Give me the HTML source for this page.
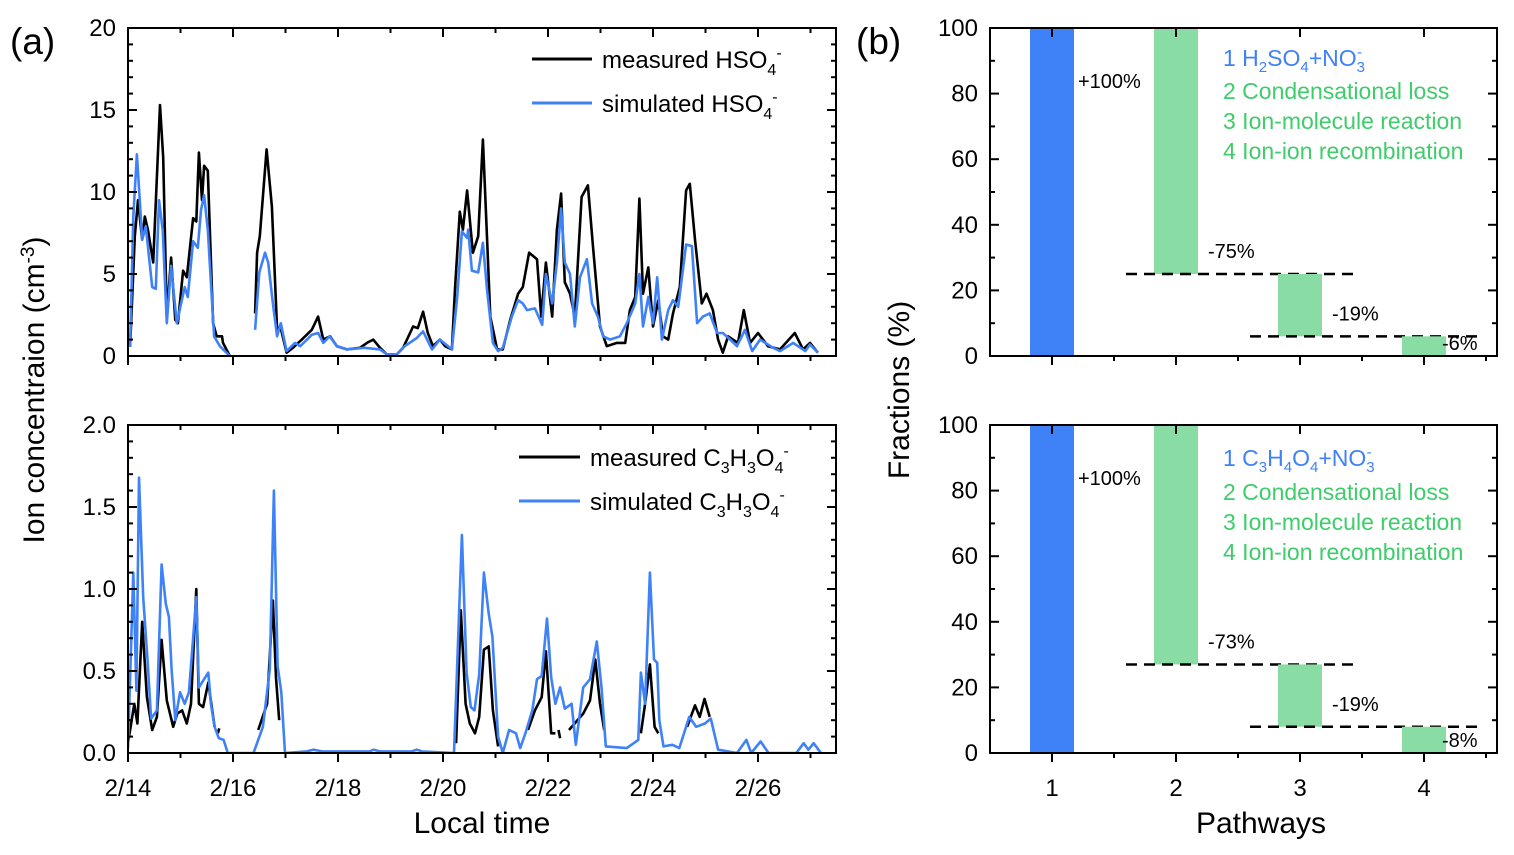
<!DOCTYPE html>
<html><head><meta charset="utf-8"><style>
html,body{margin:0;padding:0;background:#fff;}
svg{display:block;font-family:"Liberation Sans",Arial,sans-serif;}
</style></head><body>
<svg id="chart" width="1514" height="855" viewBox="0 0 1514 855" xmlns="http://www.w3.org/2000/svg"></svg>
<script>
// ---- Data (days since 2/14, value) ----
const hso4Measured = [[0.04,0.55],[0.13,7.3],[0.19,9.5],[0.27,7.1],[0.32,8.5],[0.38,7.7],[0.48,5.7],[0.61,15.3],[0.67,12.1],[0.74,2.4],[0.82,6.0],[0.9,2.2],[0.95,2.0],[1.05,5.2],[1.12,4.8],[1.24,8.4],[1.3,8.2],[1.35,12.4],[1.41,9.5],[1.45,11.6],[1.52,11.3],[1.62,2.0],[1.69,1.2],[1.79,1.2],[1.81,0.8],[1.94,0],null,
[2.42,2.6],[2.46,6.3],[2.51,7.3],[2.64,12.6],[2.74,9.1],[2.84,1.6],[2.9,1.8],[3.02,0.2],[3.14,0.5],[3.31,1.0],[3.5,1.6],[3.62,2.4],[3.72,1.0],[3.85,1.2],[3.98,0.6],[4.17,0.4],[4.42,0.5],[4.55,0.8],[4.67,1.0],[4.8,0.5],[4.93,0.1],[5.12,0.1],[5.24,0.5],[5.43,1.8],[5.52,1.7],[5.62,2.7],[5.71,1.4],[5.81,0.6],[5.94,1.0],[6.04,0.6],[6.17,0.4],[6.23,4.2],[6.32,8.8],[6.38,7.7],[6.46,10.1],[6.57,6.3],[6.67,7.3],[6.76,13.2],[6.84,7.1],[6.9,2.4],[7.03,0.4],[7.14,0.4],[7.28,2.2],[7.43,3.8],[7.52,4.2],[7.64,6.3],[7.79,5.9],[7.87,2.4],[7.96,5.7],[8.08,2.4],[8.17,7.7],[8.25,9.9],[8.32,4.5],[8.42,3.8],[8.51,2.4],[8.64,9.7],[8.76,10.4],[8.86,6.6],[8.99,1.8],[9.12,0.6],[9.31,0.8],[9.47,0.8],[9.56,2.8],[9.66,3.6],[9.74,9.6],[9.81,3.8],[9.91,5.4],[10.0,1.8],[10.1,3.4],[10.19,1.2],[10.29,1.0],[10.38,2.6],[10.51,4.2],[10.63,10.1],[10.7,10.5],[10.8,7.1],[10.93,3.2],[11.02,3.8],[11.14,2.8],[11.24,1.0],[11.33,0.2],[11.43,1.2],[11.62,0.8],[11.73,2.8],[11.85,0.8],[12.0,1.4],[12.19,0.6],[12.42,0.4],[12.7,1.4],[12.86,0.4],[12.99,0.8],[13.14,0.2]];
const hso4Simulated = [[0.04,0.55],[0.1,8.5],[0.17,12.3],[0.27,7.1],[0.34,7.9],[0.46,4.2],[0.53,4.1],[0.59,9.5],[0.66,7.7],[0.74,2.0],[0.82,5.5],[0.93,2.0],[1.08,4.2],[1.14,3.6],[1.24,7.0],[1.33,6.6],[1.39,8.9],[1.45,9.8],[1.52,7.7],[1.64,1.2],[1.75,0.6],[1.94,0],null,
[2.42,1.6],[2.5,5.1],[2.61,6.3],[2.67,5.7],[2.76,3.2],[2.84,1.2],[2.91,2.0],[3.02,0.3],[3.18,0.8],[3.28,0.6],[3.41,1.0],[3.5,1.3],[3.62,1.4],[3.72,0.8],[3.84,1.2],[3.98,0.6],[4.17,0.4],[4.5,0.5],[4.8,0.4],[4.93,0.1],[5.12,0.1],[5.27,0.6],[5.5,1.1],[5.62,1.5],[5.79,0.4],[5.94,1.0],[6.17,0.4],[6.27,3.6],[6.36,7.6],[6.46,7.2],[6.48,7.7],[6.55,5.2],[6.67,5.1],[6.76,6.9],[6.84,4.0],[6.95,0.8],[7.05,0.3],[7.14,0.5],[7.31,2.4],[7.43,3.4],[7.52,3.2],[7.6,2.8],[7.75,2.9],[7.89,1.9],[7.96,5.0],[8.08,3.2],[8.17,5.7],[8.25,9.0],[8.32,5.7],[8.42,5.0],[8.51,1.8],[8.61,4.8],[8.74,5.9],[8.84,3.2],[8.95,2.4],[9.05,1.2],[9.18,1.0],[9.37,1.2],[9.5,2.0],[9.66,3.2],[9.74,5.0],[9.81,1.8],[9.91,3.6],[10.0,2.0],[10.08,4.8],[10.17,1.0],[10.29,2.8],[10.38,3.4],[10.48,3.0],[10.63,6.8],[10.74,6.7],[10.84,2.0],[10.95,2.4],[11.08,2.6],[11.22,1.4],[11.33,1.4],[11.47,1.0],[11.6,0.6],[11.75,1.6],[11.89,0.3],[12.04,1.0],[12.29,0.5],[12.42,0.3],[12.67,0.8],[12.9,0.3],[12.99,0.7],[13.14,0.2]];
const c3Measured = [[0,0.06],[0.12,0.3],[0.18,0.18],[0.27,0.8],[0.36,0.34],[0.46,0.14],[0.55,0.22],[0.64,0.69],[0.74,0.32],[0.86,0.16],[0.94,0.24],[1.03,0.26],[1.12,0.18],[1.2,0.3],[1.3,1.0],[1.35,0.3],[1.43,0.28],[1.53,0.43],[1.65,0.16],null,[1.71,0.12],[1.74,0.15],null,
[2.48,0.14],[2.65,0.3],[2.76,0.93],[2.82,0.46],[2.88,0.2],null,
[6.25,0.06],[6.34,0.87],[6.43,0.3],[6.51,0.18],[6.61,0.12],[6.69,0.22],[6.78,0.63],[6.87,0.65],[6.95,0.26],[7.05,0.04],null,
[7.62,0.14],[7.75,0.26],[7.88,0.34],[7.96,0.62],[8.06,0.12],[8.14,0.12],null,[8.2,0.14],[8.23,0.09],null,
[8.4,0.14],[8.67,0.24],[8.8,0.32],[8.9,0.57],[8.99,0.3],[9.07,0.14],null,
[9.77,0.12],[9.85,0.3],[9.94,0.54],[10.03,0.16],[10.1,0.12],null,
[10.65,0.16],[10.8,0.29],[10.89,0.22],[10.98,0.33],[11.08,0.22]];
const c3Simulated = [[0,0.03],[0.1,1.1],[0.16,0.38],[0.21,1.68],[0.29,0.95],[0.37,0.58],[0.44,0.21],[0.55,0.26],[0.64,1.15],[0.72,0.91],[0.78,0.83],[0.83,0.51],[0.9,0.2],[0.99,0.37],[1.08,0.3],[1.16,0.37],[1.3,0.95],[1.35,0.4],[1.45,0.45],[1.53,0.49],[1.58,0.3],[1.65,0.16],[1.73,0.09],[1.82,0.08],[1.9,0],[2.39,0],[2.57,0.16],[2.7,0.51],[2.78,1.6],[2.85,0.53],[2.92,0.37],[2.99,0],[3.4,0.01],[3.53,0.02],[3.7,0.01],[4.6,0.01],[4.68,0.02],[4.8,0.01],[5.4,0.01],[5.5,0.02],[5.6,0.01],[6.21,0],[6.36,1.33],[6.45,0.49],[6.53,0.28],[6.6,0.26],[6.69,0.48],[6.78,1.1],[6.87,0.85],[6.94,0.71],[7.05,0.1],[7.14,0],[7.26,0.14],[7.39,0.12],[7.47,0.03],[7.57,0.12],[7.7,0.26],[7.79,0.45],[7.88,0.47],[7.98,0.82],[8.06,0.46],[8.14,0.3],[8.23,0.4],[8.32,0.27],[8.45,0.3],[8.53,0.05],[8.67,0.4],[8.8,0.45],[8.93,0.68],[9.02,0.4],[9.1,0.04],[9.5,0.03],[9.72,0.08],[9.77,0.49],[9.85,0.3],[9.94,1.1],[10.02,0.57],[10.08,0.55],[10.12,0.2],[10.2,0.04],[10.37,0.05],[10.5,0.03],[10.69,0.22],[10.82,0.16],[10.99,0.18],[11.1,0.21],[11.24,0.02],[11.6,0],[11.78,0.08],[11.87,0],[12.05,0.07],[12.2,0],[12.73,0],[12.87,0.06],[12.96,0.02],[13.06,0.06],[13.2,0]];
const dateLabels = ["2/14","2/16","2/18","2/20","2/22","2/24","2/26"];
const pathwayCats = [1,2,3,4];
const topFractions = [100,-75,-19,-6];
const bottomFractions = [100,-73,-19,-8];
const topFracLabels = ["+100%","-75%","-19%","-6%"];
const bottomFracLabels = ["+100%","-73%","-19%","-8%"];

const NS="http://www.w3.org/2000/svg";
const svg=document.getElementById('chart');
function mk(tag,attrs,parent){const e=document.createElementNS(NS,tag);for(const k in attrs)e.setAttribute(k,attrs[k]);(parent||svg).appendChild(e);return e;}

const L={x0:128,x1:836,pxPerDay:52.5};
const xDay=d=>L.x0+d*L.pxPerDay;
function timePanel(name,y0,y1,ymax,major,minor,fmt,s1,s2){
  const g=mk('g',{});
  
  
  const yV=v=>y0-(v/ymax)*(y0-y1);
  const clip=mk('clipPath',{id:'clip-'+name},g);mk('rect',{x:L.x0,y:y1,width:L.x1-L.x0,height:y0-y1},clip);
  [[s1,'#000','measured-line'],[s2,'#3f82f8','simulated-line']].forEach(([ser,col,nm])=>{
    let d='',pen=false;
    ser.forEach(p=>{if(!p){pen=false;return;}d+=(pen?'L':'M')+xDay(p[0]).toFixed(1)+' '+yV(p[1]).toFixed(1);pen=true;});
    const path=mk('path',{d:d,fill:'none',stroke:col,'stroke-width':2.6,'stroke-linejoin':'round','clip-path':'url(#clip-'+name+')'},g);
    
    
  });
  mk('rect',{x:L.x0,y:y1,width:L.x1-L.x0,height:y0-y1,fill:'none',stroke:'#000','stroke-width':2},g);
  const n=Math.round(ymax/minor);
  for(let i=0;i<=n;i++){const v=i*minor;const y=yV(v);const isMaj=Math.abs(v/major-Math.round(v/major))<1e-6;const len=isMaj?9:5;
    mk('line',{x1:L.x0,x2:L.x0+len,y1:y,y2:y,stroke:'#000','stroke-width':2},g);
    mk('line',{x1:L.x1,x2:L.x1-len,y1:y,y2:y,stroke:'#000','stroke-width':2},g);
    if(isMaj){const t=mk('text',{x:L.x0-12,y:y+8,'text-anchor':'end','font-size':24},g);t.textContent=fmt(v);
      
      }
  }
  for(let d=0;d<=13;d++){const x=xDay(d);const len=d%2===0?9:5;mk('line',{x1:x,x2:x,y1:y0,y2:y0+len,stroke:'#000','stroke-width':2},g);
    mk('line',{x1:x,x2:x,y1:y1,y2:y1+len,stroke:'#000','stroke-width':2},g);}
  return g;
}
timePanel('hso4-panel',356,28,20,5,1,v=>String(v),hso4Measured,hso4Simulated);
timePanel('c3-panel',753,425,2,0.5,0.1,v=>v.toFixed(1),c3Measured,c3Simulated);
dateLabels.forEach((lab,i)=>{const t=mk('text',{x:xDay(i*2),y:796,'text-anchor':'middle','font-size':24});t.textContent=lab;
  
  });

function legendEntry(x1,x2,y,col,main,name){
  const g=mk('g',{});
  
  
  mk('line',{x1:x1,x2:x2,y1:y,y2:y,stroke:col,'stroke-width':3},g);
  const t=mk('text',{x:x2+10,y:y+9,'font-size':24},g);
  t.innerHTML=main;
}
legendEntry(532,592,59,'#000','measured HSO<tspan font-size="16" dy="7">4</tspan><tspan font-size="16" dy="-17">-</tspan>','legend-measured-hso4');
legendEntry(532,592,103,'#3f82f8','simulated HSO<tspan font-size="16" dy="7">4</tspan><tspan font-size="16" dy="-17">-</tspan>','legend-simulated-hso4');
legendEntry(519,580,457,'#000','measured C<tspan font-size="16" dy="7">3</tspan><tspan dy="-7">H</tspan><tspan font-size="16" dy="7">3</tspan><tspan dy="-7">O</tspan><tspan font-size="16" dy="7">4</tspan><tspan font-size="16" dy="-17">-</tspan>','legend-measured-c3');
legendEntry(519,580,501,'#3f82f8','simulated C<tspan font-size="16" dy="7">3</tspan><tspan dy="-7">H</tspan><tspan font-size="16" dy="7">3</tspan><tspan dy="-7">O</tspan><tspan font-size="16" dy="7">4</tspan><tspan font-size="16" dy="-17">-</tspan>','legend-simulated-c3');

const R={x0:990,x1:1497,cx1:1052,pxPerCat:124,barW:44};
const xCat=c=>R.cx1+(c-1)*R.pxPerCat;
function fracPanel(name,y0,y1,vals,labs,legendLines,legY){
  const g=mk('g',{});
  
  
  const yV=v=>y0-(v/100)*(y0-y1);
  let level=0;
  vals.forEach((v,i)=>{
    const top=v>0?level+v:level, bot=v>0?level:level+v;
    const r=mk('rect',{x:xCat(pathwayCats[i])-R.barW/2,y:yV(top),width:R.barW,height:yV(bot)-yV(top),fill:i===0?'#3f82f8':'#89dca3'},g);
    
    
    level=level+v;
    if(i>=1&&i<vals.length-1){
      const l=mk('line',{x1:xCat(pathwayCats[i])-50,x2:xCat(pathwayCats[i])+184,y1:yV(level),y2:yV(level),stroke:'#000','stroke-width':2.5,'stroke-dasharray':'11 7'},g);
      
      
    }
    const lx=xCat(pathwayCats[i])+R.barW/2+(i===0?4:10);
    const ly=i===0?yV(100)+60:yV(level)-16+(i===3?10:0);
    const t=mk('text',{x:i===3?lx-14:lx,y:ly,'font-size':20},g);t.textContent=labs[i];
    
    
  });
  mk('rect',{x:R.x0,y:y1,width:R.x1-R.x0,height:y0-y1,fill:'none',stroke:'#000','stroke-width':2},g);
  for(let v=0;v<=100;v+=10){const y=yV(v);const len=v%20===0?9:5;
    mk('line',{x1:R.x0,x2:R.x0+len,y1:y,y2:y,stroke:'#000','stroke-width':2},g);
    mk('line',{x1:R.x1,x2:R.x1-len,y1:y,y2:y,stroke:'#000','stroke-width':2},g);
    if(v%20===0){const t=mk('text',{x:R.x0-12,y:y+8,'text-anchor':'end','font-size':24},g);t.textContent=v;
      
      }}
  pathwayCats.forEach(c=>{const x=xCat(c);mk('line',{x1:x,x2:x,y1:y0,y2:y0+9,stroke:'#000','stroke-width':2},g);mk('line',{x1:x,x2:x,y1:y1,y2:y1+9,stroke:'#000','stroke-width':2},g);
    mk('line',{x1:x+62,x2:x+62,y1:y0,y2:y0+5,stroke:'#000','stroke-width':2},g);});
  legendLines.forEach((s,i)=>{const t=mk('text',{x:1223,y:legY[i],'font-size':23,fill:i===0?'#3f82f8':'#3fcc6b'},g);t.innerHTML=s;
    
    });
}
fracPanel('fraction-top-panel',356,28,topFractions,topFracLabels,
 ['1 H<tspan font-size="15" dy="6">2</tspan><tspan dy="-6">SO</tspan><tspan font-size="15" dy="6">4</tspan><tspan dy="-6">+NO</tspan><tspan font-size="15" dy="6">3</tspan><tspan font-size="15" dx="-8" dy="-15">-</tspan>','2 Condensational loss','3 Ion-molecule reaction','4 Ion-ion recombination'],[66,99,129,159]);
fracPanel('fraction-bottom-panel',753,425,bottomFractions,bottomFracLabels,
 ['1 C<tspan font-size="15" dy="6">3</tspan><tspan dy="-6">H</tspan><tspan font-size="15" dy="6">4</tspan><tspan dy="-6">O</tspan><tspan font-size="15" dy="6">4</tspan><tspan dy="-6">+NO</tspan><tspan font-size="15" dy="6">3</tspan><tspan font-size="15" dx="-8" dy="-15">-</tspan>','2 Condensational loss','3 Ion-molecule reaction','4 Ion-ion recombination'],[466,500,530,560]);
pathwayCats.forEach(c=>{const t=mk('text',{x:xCat(c),y:796,'text-anchor':'middle','font-size':24});t.textContent=c;
  
  });

function txt(x,y,s,size,name,extra){const t=mk('text',Object.assign({x:x,y:y,'font-size':size},extra||{}));t.innerHTML=s;
  
  return t;}
txt(482,833,'Local time',30,'x-axis-title',{'text-anchor':'middle'});
txt(1261,833,'Pathways',30,'x-axis-title-pathways',{'text-anchor':'middle'});
txt(0,0,'Ion concentraion (cm<tspan font-size="19" dy="-10">-3</tspan><tspan dy="10">)</tspan>',30,'y-axis-title',{'text-anchor':'middle',transform:'translate(44,390) rotate(-90)'});
txt(0,0,'Fractions (%)',30,'y-axis-title-fractions',{'text-anchor':'middle',transform:'translate(909,390) rotate(-90)'});
txt(10,54,'(a)',37,'panel-label-a');
txt(856,54,'(b)',37,'panel-label-b');
</script>
</body></html>
